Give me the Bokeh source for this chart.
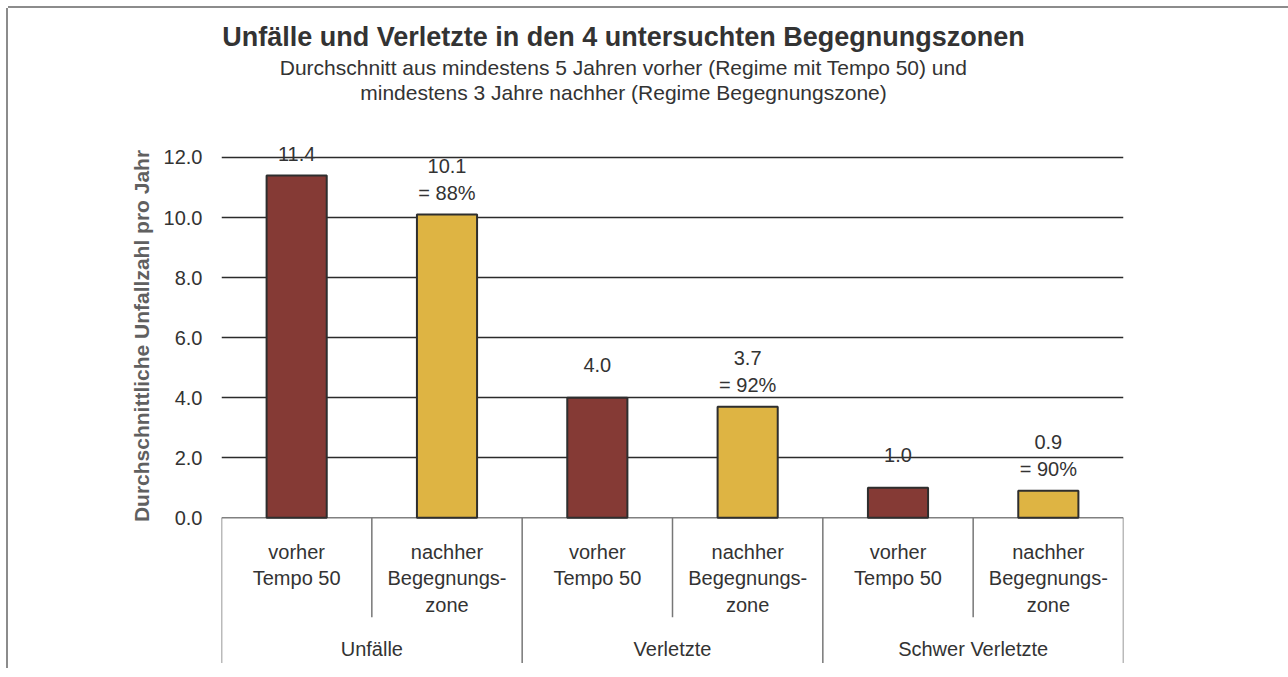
from bokeh.plotting import figure
from bokeh.models import (ColumnDataSource, FactorRange, Range1d, FixedTicker,
                          PrintfTickFormatter, LabelSet, Label)
from bokeh.embed import file_html
from bokeh.resources import INLINE
from bokeh.core.properties import value

# ---------------- data ----------------
title_text = "Unfälle und Verletzte in den 4 untersuchten Begegnungszonen"
subtitle_lines = ["Durchschnitt aus mindestens 5 Jahren vorher (Regime mit Tempo 50) und",
                  "mindestens 3 Jahre nachher (Regime Begegnungszone)"]
y_label = "Durchschnittliche Unfallzahl pro Jahr"
groups = ["Unfälle", "Verletzte", "Schwer Verletzte"]
phases = ["vorher\nTempo 50", "nachher\nBegegnungs-\nzone"]
before = [11.4, 4.0, 1.0]
after = [10.1, 3.7, 0.9]
after_share = ["= 88%", "= 92%", "= 90%"]
y_ticks = [0, 2, 4, 6, 8, 10, 12]

# ---------------- layout constants ----------------
FONT = "Liberation Sans"
TXT = "#333333"
OFF = 8                                   # page offset of the canvas
W, H = 1272, 660
TOP, BOTTOM, LEFT, RIGHT = 0, 5, 213, 157
PPU = 30.03                               # pixels per data unit (y)
Y0 = -4.85
Y1 = Y0 + (H - TOP - BOTTOM) / PPU
ppx = (W - LEFT - RIGHT) / (len(groups) * len(phases))  # pixels per category

factors = [(g, ph) for g in groups for ph in phases]
tops = []
for b, a in zip(before, after):
    tops += [b, a]
colors = ["#853a35", "#deb443"] * len(groups)

p = figure(width=W, height=H, output_backend="svg", toolbar_location=None, title=None,
           x_range=FactorRange(factors=factors, group_padding=0, factor_padding=0,
                               subgroup_padding=0, range_padding=0),
           y_range=Range1d(Y0, Y1),
           min_border_top=TOP, min_border_bottom=BOTTOM,
           min_border_left=LEFT, min_border_right=RIGHT)
p.styles = {"margin-left": f"{OFF}px", "margin-top": f"{OFF}px",
            "box-shadow": ("-2px 0 0 0 #8c8c8c, 0 -2px 0 0 #8c8c8c, "
                           "337px -331px 0 -329px #8c8c8c")}
p.outline_line_color = None
p.background_fill_color = "white"
p.xaxis.visible = False
p.xgrid.visible = False
p.ygrid.ticker = FixedTicker(ticks=y_ticks[1:])
p.ygrid.grid_line_color = "#2b2b2b"
p.ygrid.grid_line_width = 1.5

ax = p.yaxis[0]
ax.ticker = FixedTicker(ticks=y_ticks)
ax.formatter = PrintfTickFormatter(format="%.1f")
ax.axis_line_color = None
ax.major_tick_line_color = None
ax.minor_tick_line_color = None
ax.major_label_standoff = 13
ax.major_label_text_font = FONT
ax.major_label_text_font_size = "20px"
ax.major_label_text_color = TXT
ax.axis_label = y_label
ax.axis_label_text_font = FONT
ax.axis_label_text_font_style = "bold"
ax.axis_label_text_font_size = "21px"
ax.axis_label_text_color = "#606060"
ax.axis_label_standoff = 8

n = len(factors)
# baseline at zero
p.segment(x0=[0], y0=[0], x1=[n], y1=[0], line_color="#808080", line_width=1.5)

# bars
src = ColumnDataSource(dict(x=factors, top=tops, color=colors))
p.vbar(x="x", top="top", bottom=0, width=0.4, source=src, fill_color="color",
       line_color="#2e2e2e", line_width=2)

# category separators
sx, sy1 = [], []
for b in range(n + 1):
    sx.append(b)
    sy1.append(Y0 + 0.02 if b % len(phases) == 0 else -99.5 / PPU)
p.segment(x0=sx, y0=[0] * len(sx), x1=sx, y1=sy1, line_color="#777777", line_width=1.5)

# sub category labels (one glyph per line)
lx, ly, lt = [], [], []
for i, (g, ph) in enumerate(factors):
    for j, line in enumerate(ph.split("\n")):
        lx.append(i + 0.5)
        ly.append(-(34 + 26.6 * j) / PPU)
        lt.append(line)
p.text(x=lx, y=ly, text=lt, text_font=value(FONT), text_font_size="20px",
       text_color=TXT, text_align="center", text_baseline="middle")

# group labels
gx = [len(phases) * k + len(phases) / 2 for k in range(len(groups))]
gy = [-131.5 / PPU] * len(groups)
p.text(x=gx, y=gy, text=groups, text_font=value(FONT), text_font_size="20px",
       text_color=TXT, text_align="center", text_baseline="middle")

# value labels
vx, vy, vt = [], [], []
for k in range(len(groups)):
    vx.append(2 * k + 0.5)
    vy.append(min(before[k] + 33 / PPU, 12.1))
    vt.append(f"{before[k]:.1f}")
    vx.append(2 * k + 1.5)
    vy.append(after[k] + 48.5 / PPU)
    vt.append(f"{after[k]:.1f}")
    vx.append(2 * k + 1.5)
    vy.append(after[k] + 22 / PPU)
    vt.append(after_share[k])
lsrc = ColumnDataSource(dict(x=vx, y=vy, text=vt))
p.add_layout(LabelSet(x="x", y="y", text="text", source=lsrc, text_font=value(FONT),
                      text_font_size="20px", text_color=TXT, text_align="center",
                      text_baseline="middle"))

# title and subtitle (page coordinates converted to data units)
title_x = (623 - (LEFT + OFF)) / ppx
zero_page = OFF + TOP + Y1 * PPU
p.add_layout(Label(x=title_x, y=(zero_page - 36) / PPU, text=title_text,
                   text_font=FONT, text_font_size="27px", text_font_style="bold",
                   text_color=TXT, text_align="center", text_baseline="middle"))
for j, line in enumerate(subtitle_lines):
    p.add_layout(Label(x=title_x, y=(zero_page - 67 - 25 * j) / PPU, text=line,
                       text_font=FONT, text_font_size="21px",
                       text_color=TXT, text_align="center", text_baseline="middle"))

open("out.html", "w").write(file_html(p, INLINE))
